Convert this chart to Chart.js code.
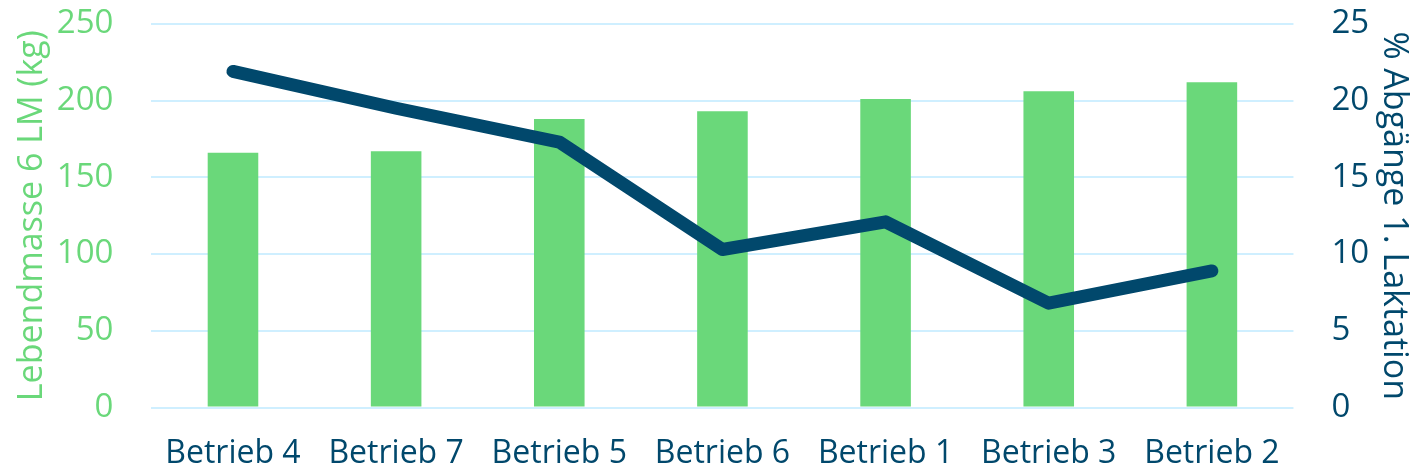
<!DOCTYPE html>
<html>
<head>
<meta charset="utf-8">
<script src="https://cdn.jsdelivr.net/npm/chart.js@4/dist/chart.umd.min.js"></script>
<style>
    html, body { margin: 0; padding: 0; background: #fff; }
    #wrap { width: 1418px; height: 473px; }
</style>
</head>
<body>
<div id="wrap"><canvas id="comboChart"></canvas></div>
<script>
const betriebe = ['Betrieb 4', 'Betrieb 7', 'Betrieb 5', 'Betrieb 6', 'Betrieb 1', 'Betrieb 3', 'Betrieb 2'];
const lebendmasse = [166, 167, 188, 193, 201, 206, 212];
const abgaenge = [21.9, 19.5, 17.3, 10.3, 12.1, 6.8, 8.9];

const green = '#6AD87A';
const navy = '#01486C';
const fontFamily = "'Open Sans', 'Noto Sans', sans-serif";

const ctx = document.getElementById('comboChart').getContext('2d');
new Chart(ctx, {
    data: {
        labels: betriebe,
        datasets: [{
            type: 'line',
            label: '% Abgänge 1. Laktation',
            data: abgaenge,
            yAxisID: 'y2',
            borderColor: navy,
            borderWidth: 13,
            borderCapStyle: 'round',
            borderJoinStyle: 'round',
            pointRadius: 0,
            tension: 0,
            fill: false
        }, {
            type: 'bar',
            label: 'Lebendmasse 6 LM (kg)',
            data: lebendmasse,
            yAxisID: 'y',
            backgroundColor: green,
            categoryPercentage: 1,
            barPercentage: 0.31
        }]
    },
    options: {
        responsive: true,
        maintainAspectRatio: false,
        animation: false,
        // tick padding is counted twice below the x labels, the negative bottom takes that back
        layout: { padding: { top: 4, right: 0, bottom: -27, left: 8 } },
        plugins: {
            legend: { display: false },
            tooltip: { enabled: false }
        },
        scales: {
            x: {
                grid: { display: false, drawTicks: false },
                border: { display: false },
                ticks: { color: navy, font: { family: fontFamily, size: 32 }, padding: 27, maxRotation: 0, autoSkip: false }
            },
            y: {
                position: 'left',
                min: 0,
                max: 250,
                ticks: { stepSize: 50, color: green, font: { family: fontFamily, size: 33 }, padding: 4 },
                // transparent tick marks push the labels away from the plot
                grid: { color: '#CFEFFF', lineWidth: 2, drawTicks: true, tickLength: 34, tickColor: 'transparent' },
                border: { display: false },
                title: { display: true, text: 'Lebendmasse 6 LM (kg)', color: green, font: { family: fontFamily, size: 34 }, padding: { top: 4, bottom: 0 } }
            },
            y2: {
                position: 'right',
                min: 0,
                max: 25,
                ticks: { stepSize: 5, color: navy, font: { family: fontFamily, size: 33 }, padding: 4 },
                grid: { drawOnChartArea: false, drawTicks: true, tickLength: 34, tickColor: 'transparent', color: 'transparent' },
                border: { display: false },
                title: { display: true, text: '% Abgänge 1. Laktation', color: navy, font: { family: fontFamily, size: 34 }, padding: { top: 4, bottom: 0 } }
            }
        }
    }
});
</script>
</body>
</html>
